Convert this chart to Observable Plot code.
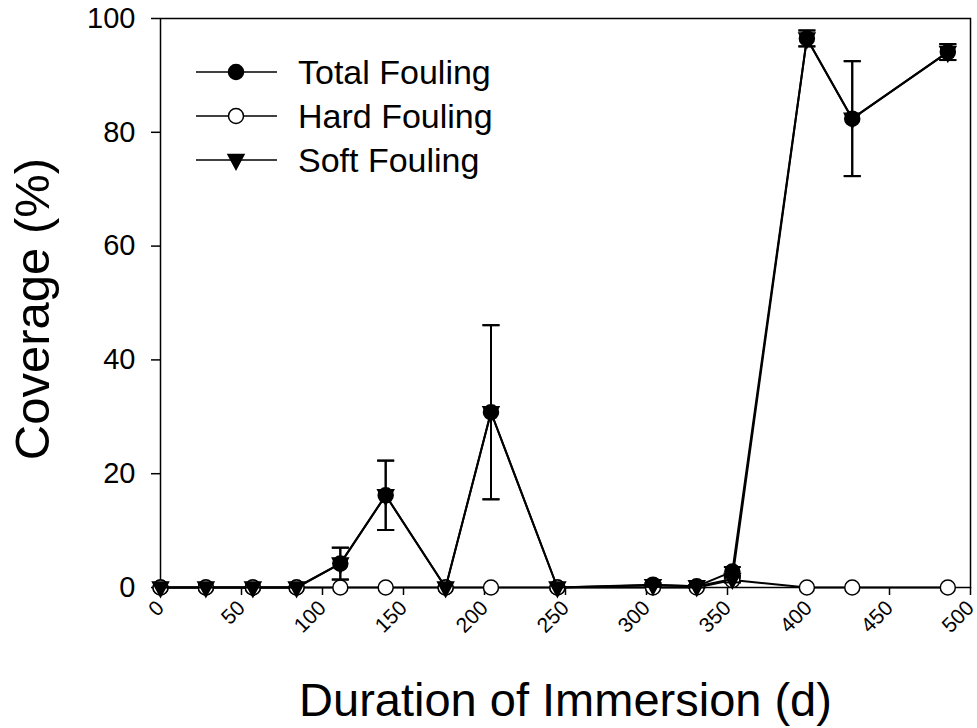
<!DOCTYPE html>
<html><head><meta charset="utf-8">
<script src="https://cdn.jsdelivr.net/npm/d3@7"></script>
<script src="https://cdn.jsdelivr.net/npm/@observablehq/plot@0.6"></script>
<style>body{margin:0;background:#fff;}</style>
</head><body><div id="chart"></div>
<script>
// ---- data ----
const days     = [0, 28, 57, 84, 111, 139, 176, 204, 245, 304, 331, 353, 399, 427, 486];
const total    = [0, 0, 0, 0, 4.2, 16.2, 0, 30.8, 0, 0.5, 0.2, 2.8, 96.5, 82.4, 94.1];
const totalErr = [0, 0, 0, 0, 2.8, 6.1, 0, 15.3, 0, 0.3, 0.2, 0.8, 1.4, 10.1, 1.4];
const hard     = [0, 0, 0, 0, 0, 0, 0, 0, 0, 0, 0, 1.3, 0, 0, 0];
const hardErr  = [0, 0, 0, 0, 0, 0, 0, 0, 0, 0, 0, 0.4, 0, 0, 0];
const soft     = [0, 0, 0, 0, 4.2, 16.2, 0, 30.8, 0, 0.4, 0.2, 1.5, 96.5, 82.4, 94.1];
const softErr  = [0, 0, 0, 0, 2.8, 6.1, 0, 15.3, 0, 0.3, 0.2, 0.6, 1.4, 10.1, 1.4];
const xTicks = [0, 50, 100, 150, 200, 250, 300, 350, 400, 450, 500];
const yTicks = [0, 20, 40, 60, 80, 100];
const seriesNames = ["Total Fouling", "Hard Fouling", "Soft Fouling"];
const xTitle = "Duration of Immersion (d)";
const yTitle = "Coverage (%)";

function rows(vals, errs) {
  return days.map((d, i) => ({x: d, y: vals[i], e: errs[i], lo: vals[i] - errs[i], hi: vals[i] + errs[i]}));
}
const T = rows(total, totalErr), H = rows(hard, hardErr), S = rows(soft, softErr);

const capSymbol = {draw(ctx) { ctx.moveTo(-8.5, 0); ctx.lineTo(8.5, 0); }};
const downTri = {draw(ctx) { ctx.moveTo(-8, -5.5); ctx.lineTo(8, -5.5); ctx.lineTo(0, 9.5); ctx.closePath(); }};
const circ = {draw(ctx) { ctx.moveTo(7.5, 0); ctx.arc(0, 0, 7.5, 0, 2 * Math.PI); }};

function seriesMarks(data, symbol, fill) {
  const eb = data.filter(d => d.e > 0);
  return [
    Plot.line(data, {x: "x", y: "y", stroke: "black", strokeWidth: 2}),
    Plot.ruleX(eb, {x: "x", y1: "lo", y2: "hi", stroke: "black", strokeWidth: 2}),
    Plot.dot(eb, {x: "x", y: "hi", symbol: capSymbol, stroke: "black", strokeWidth: 2, fill: "none"}),
    Plot.dot(eb, {x: "x", y: "lo", symbol: capSymbol, stroke: "black", strokeWidth: 2, fill: "none"}),
    Plot.dot(data, {x: "x", y: "y", symbol, fill, stroke: "black", strokeWidth: 1.5})
  ];
}

const chart = Plot.plot({
  width: 977, height: 728,
  marginLeft: 160, marginRight: 7, marginTop: 18, marginBottom: 141,
  style: {fontFamily: "'Liberation Sans', Arial, sans-serif", background: "white", color: "black"},
  x: {domain: [0, 500]},
  y: {domain: [0, 100]},
  marks: [
    Plot.frame({stroke: "black", strokeWidth: 1.5}),
    Plot.axisX({ticks: xTicks, tickSize: 8, tickPadding: 9, tickRotate: -45, fontSize: 21, label: null, strokeWidth: 1.5}),
    Plot.axisY({ticks: yTicks, tickSize: 9, tickPadding: 16, fontSize: 29, label: null, strokeWidth: 1.5}),
    ...seriesMarks(T, circ, "black"),
    ...seriesMarks(H, circ, "white"),
    ...seriesMarks(S, downTri, "black"),
    Plot.text([xTitle], {frameAnchor: "bottom", dy: 113, fontSize: 47, textAnchor: "middle", lineAnchor: "middle", fill: "black"}),
    Plot.text([yTitle], {frameAnchor: "left", rotate: -90, dx: -127, dy: 6, fontSize: 49, textAnchor: "middle", lineAnchor: "middle", fill: "black"})
  ]
});
document.getElementById("chart").appendChild(chart);

// ---- legend (inside the plot, top-left) ----
const svg = d3.select(chart);
const lg = svg.append("g").attr("font-family", "'Liberation Sans', Arial, sans-serif");
const syms = [circ, circ, downTri];
const fills = ["black", "white", "black"];
seriesNames.forEach((name, i) => {
  const y = 72 + i * 44;
  lg.append("line").attr("x1", 196).attr("x2", 277).attr("y1", y).attr("y2", y)
    .attr("stroke", "black").attr("stroke-width", 1.5);
  lg.append("path").attr("transform", `translate(236,${y})`)
    .attr("d", d3.symbol(syms[i])()).attr("fill", fills[i]).attr("stroke", "black").attr("stroke-width", 1.5);
  lg.append("text").attr("x", 298).attr("y", y).attr("dy", "0.35em").attr("text-anchor", "start")
    .attr("font-size", 34).attr("fill", "black").text(name);
});
</script>
</body></html>
